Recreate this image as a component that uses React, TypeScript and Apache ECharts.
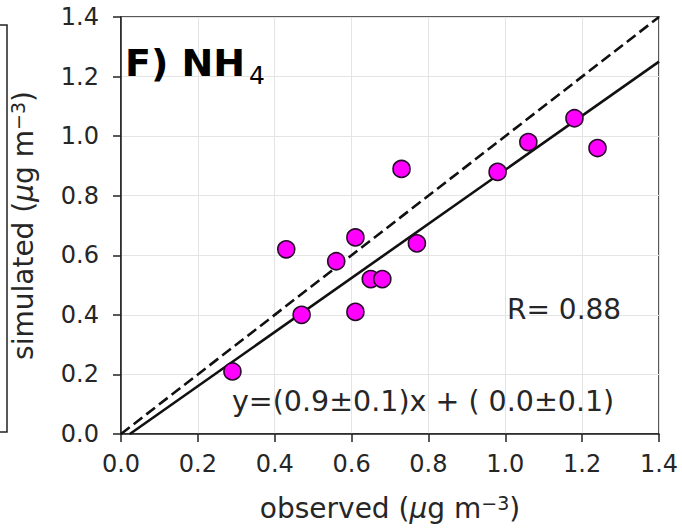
import React, { useEffect, useRef } from "react";
import * as echarts from "echarts";

const observed = [0.29, 0.47, 0.43, 0.56, 0.61, 0.61, 0.65, 0.68, 0.73, 0.77, 0.98, 1.06, 1.18, 1.24];
const simulated = [0.21, 0.4, 0.62, 0.58, 0.66, 0.41, 0.52, 0.52, 0.89, 0.64, 0.88, 0.98, 1.06, 0.96];
const oneToOneX = [0, 1.4];
const oneToOneY = [0, 1.4];
const fitX = [0.023, 1.4];
const fitY = [0, 1.25];
const titleMain = "F) NH";
const titleSub = "4";
const rText = "R= 0.88";
const eqText = "y=(0.9±0.1)x + ( 0.0±0.1)";
const xName = "observed ({i|μ}g m{sup|−3})";
const yName = "simulated ({i|μ}g m{sup|−3})";

const FONT = "DejaVu Sans";
const TXT = "#262626";

export default function App() {
  const ref = useRef<HTMLDivElement>(null);
  useEffect(() => {
    const chart = echarts.init(ref.current!, null, { renderer: "svg" });
    const pts = observed.map((x, i) => [x, simulated[i]]);
    const nameStyle = {
      color: TXT,
      fontFamily: FONT,
      fontSize: 28,
      lineHeight: 31,
      rich: {
        i: { fontStyle: "italic", fontFamily: FONT, fontSize: 28, lineHeight: 31, color: TXT },
        sup: { fontFamily: FONT, fontSize: 19, lineHeight: 19, verticalAlign: "top", color: TXT },
      },
    };
    const axisCommon = {
      type: "value" as const,
      min: 0,
      max: 1.4,
      interval: 0.2,
      nameLocation: "middle" as const,
      axisLine: { show: true, lineStyle: { color: "#222", width: 1.5 } },
      axisTick: { show: true, inside: false, length: 8, lineStyle: { color: "#222", width: 1.5 } },
      splitLine: { show: true, lineStyle: { color: "#e4e4e4", width: 1 } },
      axisLabel: {
        color: TXT,
        fontFamily: FONT,
        fontSize: 24,
        formatter: (v: number) => v.toFixed(1),
      },
      nameTextStyle: nameStyle,
    };
    chart.setOption({
      animation: false,
      backgroundColor: "#ffffff",
      grid: {
        left: 115,
        top: 17,
        right: 23,
        bottom: 90.5,
        show: true,
        borderColor: "#222",
        borderWidth: 1.5,
        backgroundColor: "transparent",
      },
      xAxis: {
        ...axisCommon,
        name: xName,
        nameGap: 59,
        axisLabel: { ...axisCommon.axisLabel, margin: 18 },
      },
      yAxis: {
        ...axisCommon,
        name: yName,
        nameGap: 82,
        nameRotate: 90,
        axisLabel: { ...axisCommon.axisLabel, margin: 22 },
      },
      series: [
        {
          type: "line",
          data: oneToOneX.map((x, i) => [x, oneToOneY[i]]),
          symbol: "none",
          lineStyle: { color: "#111", width: 2.6, type: [11, 5] },
          z: 2,
        },
        {
          type: "line",
          data: fitX.map((x, i) => [x, fitY[i]]),
          symbol: "none",
          lineStyle: { color: "#111", width: 2.6 },
          z: 2,
        },
        {
          type: "scatter",
          data: pts,
          symbol: "circle",
          symbolSize: 17,
          itemStyle: { color: "#ff00ff", borderColor: "#2a0a2a", borderWidth: 1.6, opacity: 1 },
          z: 3,
        },
      ],
      graphic: [
        {
          type: "polyline",
          shape: { points: [[0, 25], [7, 25], [7, 432], [0, 432]] },
          style: { stroke: "#222", lineWidth: 1.5, fill: "none" },
        },
        {
          type: "text",
          x: 125,
          y: 62.5,
          style: { text: titleMain, font: `bold 38px "${FONT}"`, fill: "#000", verticalAlign: "middle" },
          z: 10,
        },
        {
          type: "text",
          x: 249,
          y: 75.5,
          style: { text: titleSub, font: `25px "${FONT}"`, fill: "#000", verticalAlign: "middle" },
          z: 10,
        },
        {
          type: "text",
          x: 507,
          y: 309.5,
          style: { text: rText, font: `28px "${FONT}"`, fill: TXT, verticalAlign: "middle" },
          z: 10,
        },
        {
          type: "text",
          x: 232,
          y: 401,
          style: { text: eqText, font: `28.5px "${FONT}"`, fill: TXT, verticalAlign: "middle" },
          z: 10,
        },
      ],
    });
    return () => chart.dispose();
  }, []);
  return (
    <div
      ref={ref}
      style={{ position: "fixed", left: 0, top: 0, width: 682, height: 529 }}
    />
  );
}
